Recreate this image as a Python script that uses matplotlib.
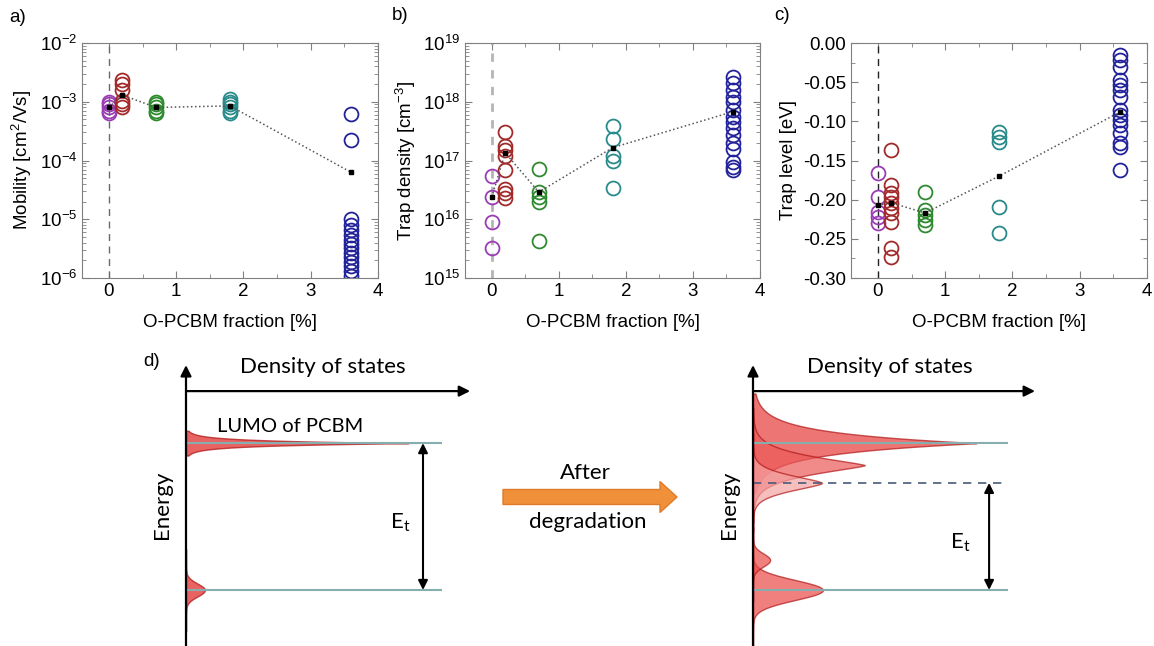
import numpy as np
import matplotlib
matplotlib.use("Agg")
import matplotlib.pyplot as plt
from matplotlib.ticker import MultipleLocator, LogLocator, NullFormatter, FormatStrFormatter
from matplotlib.patches import FancyArrow

plt.rcParams['font.family'] = ['Liberation Sans', 'DejaVu Sans']

# ---- data: panels a-c ----
fraction = [0, 0.2, 0.7, 1.8, 3.6]
group_colors = ['#9a3db4', '#a32a2a', '#2e8a2e', '#2a8a8a', '#22229a']

mobility = [
    [1.0e-3, 9e-4, 8e-4, 7e-4, 6.5e-4],
    [2.3e-3, 2.0e-3, 1.6e-3, 1.05e-3, 9e-4, 8e-4],
    [1.0e-3, 9e-4, 8e-4, 7e-4, 6.5e-4],
    [1.1e-3, 1.0e-3, 9e-4, 8e-4, 7e-4, 6.5e-4],
    [6.2e-4, 2.2e-4, 1e-5, 8e-6, 6.5e-6, 5.5e-6, 4.5e-6, 3.8e-6, 3.2e-6,
     2.7e-6, 2.3e-6, 1.9e-6, 1.6e-6, 1.3e-6, 1.1e-6],
]
mobility_mean = [8e-4, 1.3e-3, 8e-4, 8.5e-4, 6.3e-5]

trap_density = [
    [5.5e16, 2.4e16, 8.9e15, 3.3e15],
    [3.0e17, 1.8e17, 1.5e17, 1.2e17, 6.9e16, 3.3e16, 2.8e16, 2.3e16],
    [7.2e16, 2.9e16, 2.4e16, 1.95e16, 4.3e15],
    [3.9e17, 2.3e17, 1.2e17, 1.0e17, 3.4e16],
    [2.6e18, 2.1e18, 1.6e18, 1.2e18, 1.0e18, 7.3e17, 5.5e17, 4.5e17,
     3.6e17, 2.7e17, 2.0e17, 1.6e17, 9.3e16, 7.7e16, 6.9e16],
]
trap_density_mean = [2.4e16, 1.35e17, 2.9e16, 1.65e17, 6.8e17]

trap_level = [
    [-0.166, -0.197, -0.216, -0.222, -0.230],
    [-0.137, -0.181, -0.192, -0.197, -0.204, -0.211, -0.217, -0.229, -0.262, -0.273],
    [-0.190, -0.213, -0.220, -0.226, -0.232],
    [-0.113, -0.120, -0.126, -0.209, -0.243],
    [-0.015, -0.022, -0.031, -0.047, -0.054, -0.060, -0.069, -0.086,
     -0.092, -0.098, -0.105, -0.115, -0.128, -0.133, -0.162],
]
trap_level_mean = [-0.207, -0.204, -0.217, -0.170, -0.088]

# ---- data: panel d (schematic density of states) ----
# energy position, width, height and peak sharpness of each distribution
before_E = [0.663, 0.183]
before_w = [0.009, 0.03]
before_h = [0.747, 0.063]
before_p = [1.0, 2.0]
before_col = ['#e0302f', '#e0302f']

after_E = [0.663, 0.591, 0.533, 0.183, 0.281]
after_w = [0.036, 0.042, 0.036, 0.046, 0.03]
after_h = [0.75, 0.373, 0.23, 0.233, 0.057]
after_p = [1.0, 1.3, 1.5, 2.0, 2.0]
after_col = ['#e63a38', '#ec5a58', '#f5a3a3', '#ea4a48', '#ea4a48']

fig = plt.figure(figsize=(11.54, 6.46), dpi=100)
W, H = 1154, 646

FS = 13.5


def style_axes(ax):
    for s in ax.spines.values():
        s.set_color('#808080')
    ax.tick_params(which='both', direction='in', top=True, right=True,
                   color='#808080', labelsize=FS)
    ax.tick_params(which='major', length=5)
    ax.tick_params(which='minor', length=3)
    ax.set_xlim(-0.4, 4)
    ax.xaxis.set_major_locator(MultipleLocator(1))
    ax.xaxis.set_minor_locator(MultipleLocator(0.5))
    ax.set_xlabel('O-PCBM fraction [%]', fontsize=FS, labelpad=10)


def scatter_groups(ax, groups, means):
    for xf, vals, c in zip(fraction, groups, group_colors):
        ax.plot([xf] * len(vals), vals, 'o', mfc='none', mec=c, mew=1.3, ms=10)
    ax.plot(fraction, means, ':', color='#555555', lw=1.1)
    ax.plot(fraction, means, 's', color='black', ms=3.2)


def log_ticks(ax):
    ax.yaxis.set_major_locator(LogLocator(base=10, numticks=10))
    ax.yaxis.set_minor_locator(LogLocator(base=10, subs=np.arange(2, 10), numticks=10))
    ax.yaxis.set_minor_formatter(NullFormatter())


# panel a
ax_a = fig.add_axes([82 / W, 1 - 278 / H, 296 / W, 235 / H])
ax_a.axvline(0, color='#6a6a6a', ls=(0, (5, 4)), lw=1)
scatter_groups(ax_a, mobility, mobility_mean)
ax_a.set_yscale('log')
ax_a.set_ylim(1e-6, 1e-2)
ax_a.set_ylabel('Mobility [cm$^\\mathdefault{2}$/Vs]', fontsize=FS)
style_axes(ax_a)
log_ticks(ax_a)

# panel b
ax_b = fig.add_axes([465 / W, 1 - 278 / H, 295 / W, 235 / H])
ax_b.axvline(0, color='#b4b4b4', ls=(0, (3, 3)), lw=2)
scatter_groups(ax_b, trap_density, trap_density_mean)
ax_b.set_yscale('log')
ax_b.set_ylim(1e15, 1e19)
ax_b.set_ylabel('Trap density [cm$^\\mathdefault{-3}$]', fontsize=FS)
style_axes(ax_b)
log_ticks(ax_b)

# panel c
ax_c = fig.add_axes([851 / W, 1 - 278 / H, 296 / W, 235 / H])
ax_c.axvline(0, color='#222222', ls=(0, (5, 4)), lw=1)
scatter_groups(ax_c, trap_level, trap_level_mean)
ax_c.set_ylim(-0.30, 0.0)
ax_c.set_ylabel('Trap level [eV]', fontsize=FS)
style_axes(ax_c)
ax_c.yaxis.set_major_locator(MultipleLocator(0.05))
ax_c.yaxis.set_minor_locator(MultipleLocator(0.025))
ax_c.yaxis.set_major_formatter(FormatStrFormatter('%.2f'))

for lab, (x, y) in zip(['a)', 'b)', 'c)', 'd)'], [(18, 17), (400, 16), (782, 16), (152, 362)]):
    fig.text(x / W, 1 - y / H, lab, fontsize=FS, ha='center', va='center')

# ---- panel d ----
dfont = ['Lato', 'DejaVu Sans']
DFS = 16


def diagram(ax, Es, ws, hs, ps, cols, alpha):
    ax.set_xlim(0, 1)
    ax.set_ylim(0, 1)
    ax.axis('off')
    for e0, w, h, p, c in zip(Es, ws, hs, ps, cols):
        e = np.linspace(e0 - 4.5 * w, e0 + 4.5 * w, 600)
        d = h * np.exp(-np.abs((e - e0) / w) ** p)
        ax.fill_betweenx(e, 0, d, facecolor=c, alpha=alpha,
                         edgecolor='#b01818', lw=1)
    ax.annotate('', xy=(0, 0.918), xytext=(0, 0),
                arrowprops=dict(arrowstyle='-|>', lw=1.6, color='black', mutation_scale=16,
                                shrinkA=0, shrinkB=0))
    ax.text(0.457, 0.912, 'Density of states', family=dfont, fontsize=DFS,
            ha='center', va='center')
    ax.text(-0.08, 0.46, 'Energy', family=dfont, fontsize=DFS, rotation=90,
            ha='center', va='center')


ax_l = fig.add_axes([186 / W, 0, 300 / W, 306 / H])
diagram(ax_l, before_E, before_w, before_h, before_p, before_col, 0.75)
ax_l.annotate('', xy=(0.947, 0.833), xytext=(0, 0.833),
              arrowprops=dict(arrowstyle='-|>', lw=1.6, color='black', mutation_scale=16,
                              shrinkA=0, shrinkB=0))
ax_l.hlines([before_E[0], before_E[1]], 0, 0.853, color='#86aeae', lw=1.5)
ax_l.annotate('', xy=(0.79, before_E[0]), xytext=(0.79, before_E[1]),
              arrowprops=dict(arrowstyle='<|-|>', lw=1.5, color='black', mutation_scale=14,
                              shrinkA=0, shrinkB=0))
ax_l.text(0.347, 0.716, 'LUMO of PCBM', family=dfont, fontsize=DFS - 1.5,
          ha='center', va='center')
ax_l.text(0.713, 0.402, '$\\mathdefault{E_t}$', family=dfont, fontsize=DFS,
          ha='center', va='center')

ax_r = fig.add_axes([753 / W, 0, 300 / W, 306 / H])
diagram(ax_r, after_E, after_w, after_h, after_p, after_col, 0.7)
ax_r.annotate('', xy=(0.94, 0.833), xytext=(0, 0.833),
              arrowprops=dict(arrowstyle='-|>', lw=1.6, color='black', mutation_scale=16,
                              shrinkA=0, shrinkB=0))
ax_r.hlines([after_E[0], after_E[3]], 0, 0.85, color='#86aeae', lw=1.5)
ax_r.hlines(after_E[2], 0, 0.85, color='#4a5a7a', lw=1.2, linestyles=(0, (5, 4)))
ax_r.annotate('', xy=(0.787, after_E[2]), xytext=(0.787, after_E[3]),
              arrowprops=dict(arrowstyle='<|-|>', lw=1.5, color='black', mutation_scale=14,
                              shrinkA=0, shrinkB=0))
ax_r.text(0.69, 0.337, '$\\mathdefault{E_t}$', family=dfont, fontsize=DFS,
          ha='center', va='center')

# orange arrow between the two diagrams
fig.patches.append(FancyArrow(503 / W, 1 - 497 / H, 174 / W, 0, width=15 / H,
                              head_width=31 / H, head_length=17 / W,
                              length_includes_head=True, transform=fig.transFigure,
                              facecolor='#f0913a', edgecolor='#e07a28', lw=1))
fig.text(585 / W, 1 - 473 / H, 'After', family=dfont, fontsize=DFS, ha='center', va='center')
fig.text(588 / W, 1 - 522 / H, 'degradation', family=dfont, fontsize=DFS, ha='center', va='center')

fig.savefig('out.png', dpi=100)
